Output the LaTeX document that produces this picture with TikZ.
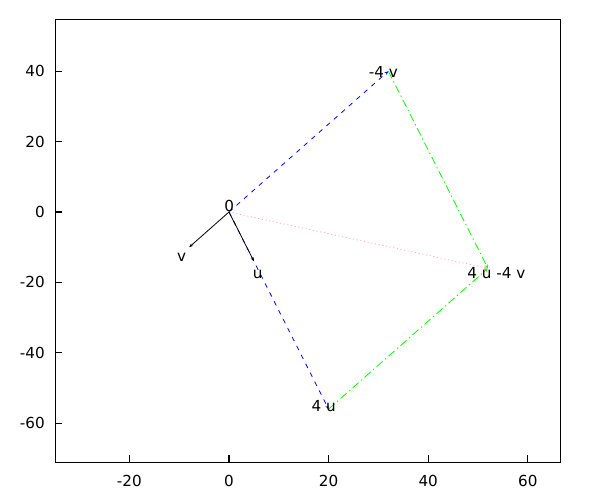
\documentclass[tikz,border=0pt]{standalone}
\usepackage{fontspec}
\setmainfont{DejaVu Sans}
\usetikzlibrary{arrows.meta}
\definecolor{gpblue}{RGB}{0,0,255}
\definecolor{gpgreen}{RGB}{0,255,0}
\definecolor{gppink}{RGB}{255,170,185}
\begin{document}
\begin{tikzpicture}[x=0.75pt,y=-0.75pt,
  font=\fontsize{11.4}{13}\selectfont,
  lbl/.style={inner sep=0pt, anchor=base},
  xtl/.style={inner sep=0pt, anchor=base},
  ytl/.style={inner sep=0pt, anchor=base east},
  vec/.style={line width=0.6pt, -{Stealth[length=3pt,width=2.4pt]}},
  bluedash/.style={vec, gpblue, dash pattern=on 3.5pt off 4pt},
  greendash/.style={vec, gpgreen, dash pattern=on 6pt off 2.5pt on 1pt off 2.5pt},
  pinkdot/.style={vec, gppink, dash pattern=on 0.8pt off 2pt},
  blackvec/.style={vec, black},
  frame/.style={line width=0.8pt, black}]
\useasboundingbox (0,0) rectangle (600,500);
% frame
\draw[frame] (55.3,19.3) rectangle (560.3,462.3);
% x ticks
\foreach \v in {-20,0,20,40,60} {
  \pgfmathsetmacro{\px}{229+4.98*\v}
  \draw[frame] (\px,462.3) -- (\px,455.3);
  \node[xtl] (xt\v) at (\px,486) {\v};
}
% y ticks
\foreach \v in {40,20,0,-20,-40,-60} {
  \pgfmathsetmacro{\py}{212-3.52*\v}
  \draw[frame] (55.3,\py) -- (62.3,\py);
  \node[ytl] (yt\v) at (45,\py+5.5) {\v};
}
% data points
\begin{scope}[shift={(229,212)}, x={(3.735pt,0pt)}, y={(0pt,2.64pt)}]
  \coordinate (O) at (0,0);
  \coordinate (U) at (5,-14);
  \coordinate (V) at (-8,-10);
  \coordinate (FU) at (20,-56);
  \coordinate (MV) at (32,40);
  \coordinate (S) at (52,-16);
\end{scope}
\draw[bluedash] (O) -- (MV);
\draw[bluedash] (O) -- (FU);
\draw[greendash] (MV) -- (S);
\draw[greendash] (FU) -- (S);
\draw[pinkdot] (O) -- (S);
\draw[blackvec] (O) -- (U);
\draw[blackvec] (O) -- (V);
% labels
\node[lbl] (l0) at (229.3,211) {0};
\node[lbl] (lu) at (257.8,278.5) {u};
\node[lbl] (lv) at (181.7,261) {v};
\node[lbl] (lmv) at (383.3,77) {-4 v};
\node[lbl] (lfu) at (323.7,411) {4 u};
\node[lbl] (ls) at (496.3,278) {4 u -4 v};
\end{tikzpicture}
\end{document}
